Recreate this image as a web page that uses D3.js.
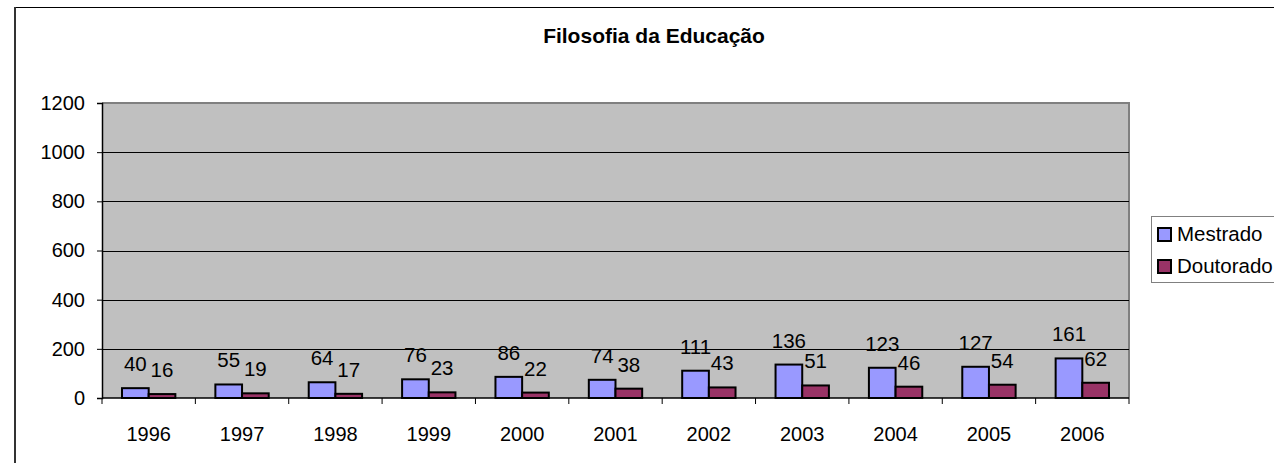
<!DOCTYPE html>
<html>
<head>
<meta charset="utf-8">
<script src="https://cdn.jsdelivr.net/npm/d3@7"></script>
<style>
  body { margin: 0; background: #fff; }
  svg { display: block; }
  svg text { font-family: "Liberation Sans", Arial, sans-serif; }
</style>
</head>
<body>
<svg width="1274" height="463"></svg>
<script>
const years = ["1996","1997","1998","1999","2000","2001","2002","2003","2004","2005","2006"]
const mestrado = [40,55,64,76,86,74,111,136,123,127,161]
const doutorado = [16,19,17,23,22,38,43,51,46,54,62]
const seriesNames = ["Mestrado","Doutorado"]
const seriesColors = ["#9999FF","#993366"]
const yTicks = [0,200,400,600,800,1000,1200]

const svg = d3.select("svg")

// outer chart frame
svg.append("line").attr("x1",15).attr("x2",1274).attr("y1",7.5).attr("y2",7.5)
  .attr("stroke","#000").attr("stroke-width",1)
svg.append("line").attr("x1",15).attr("x2",15).attr("y1",7).attr("y2",463)
  .attr("stroke","#333").attr("stroke-width",2)

const pLeft = 102, pRight = 1129, pTop = 103, pBottom = 398

const x = d3.scaleBand().domain(years).range([pLeft,pRight])
const bw = x.bandwidth()/3.5
const y = d3.scaleLinear().domain([0,1200]).range([pBottom,pTop])

// plot background
svg.append("rect").attr("x",pLeft).attr("y",pTop).attr("width",pRight-pLeft).attr("height",pBottom-pTop)
  .attr("fill","#C0C0C0")
svg.append("path").attr("d",`M${pLeft},${pTop}H${pRight}V${pBottom}`)
  .attr("fill","none").attr("stroke","#808080").attr("stroke-width",2)

// gridlines
svg.selectAll(".grid").data(yTicks.filter(d=>d>0 && d<1200)).enter()
  .append("line").attr("class","grid")
  .attr("x1",pLeft).attr("x2",pRight)
  .attr("y1",d=>Math.round(y(d))+0.5).attr("y2",d=>Math.round(y(d))+0.5)
  .attr("stroke","#000").attr("stroke-width",1)

// bars
const data = years.map((yr,i)=>({year:yr, vals:[mestrado[i],doutorado[i]]}))
const groups = svg.selectAll(".grp").data(data).enter().append("g")
  .attr("class","grp")
  .attr("transform",d=>`translate(${x(d.year)+bw*0.75},0)`)

groups.selectAll("rect").data(d=>d.vals).enter().append("rect")
  .attr("x",(d,i)=>i*bw)
  .attr("y",d=>y(d))
  .attr("width",bw)
  .attr("height",d=>pBottom-y(d))
  .attr("fill",(d,i)=>seriesColors[i])
  .attr("stroke","#000").attr("stroke-width",2)

groups.selectAll("text").data(d=>d.vals).enter().append("text")
  .attr("x",(d,i)=>i*bw+bw/2)
  .attr("y",d=>y(d)-17)
  .attr("text-anchor","middle")
  .attr("font-size",20.5)
  .text(d=>d)

// axes
const yAxis = svg.append("g").attr("transform",`translate(${pLeft},0)`)
  .call(d3.axisLeft(y).tickValues(yTicks).tickFormat(d3.format("d")).tickSize(5).tickPadding(12))
yAxis.attr("font-family",null).attr("font-size",20)
yAxis.select(".domain").attr("stroke","#000").attr("stroke-width",1.5)
yAxis.selectAll("text").attr("fill","#000")

const xAxis = svg.append("g").attr("transform",`translate(0,${pBottom})`)
  .call(d3.axisBottom(x).tickSize(0).tickPadding(29))
xAxis.attr("font-family",null).attr("font-size",20)
xAxis.select(".domain").remove()
xAxis.selectAll("text").attr("fill","#000")
svg.append("line").attr("x1",pLeft).attr("x2",pRight).attr("y1",pBottom).attr("y2",pBottom)
  .attr("stroke","#000").attr("stroke-width",1.5)
svg.selectAll(".xtick").data(years.concat(["end"])).enter().append("line")
  .attr("x1",(d,i)=>pLeft+i*x.step()).attr("x2",(d,i)=>pLeft+i*x.step())
  .attr("y1",pBottom).attr("y2",pBottom+6)
  .attr("stroke","#000")

// title
svg.append("text").attr("x",654).attr("y",43).attr("text-anchor","middle")
  .attr("font-size",21).attr("font-weight","bold").text("Filosofia da Educação")

// legend
const lg = svg.append("g")
lg.append("rect").attr("x",1151.5).attr("y",216.5).attr("width",140).attr("height",66)
  .attr("fill","#fff").attr("stroke","#808080")
seriesNames.forEach((n,i)=>{
  lg.append("rect").attr("x",1158).attr("y",228+i*32).attr("width",13).attr("height",13)
    .attr("fill",seriesColors[i]).attr("stroke","#000").attr("stroke-width",2)
  lg.append("text").attr("x",1177).attr("y",241+i*32).attr("font-size",20.5).text(n)
})
</script>
</body>
</html>
